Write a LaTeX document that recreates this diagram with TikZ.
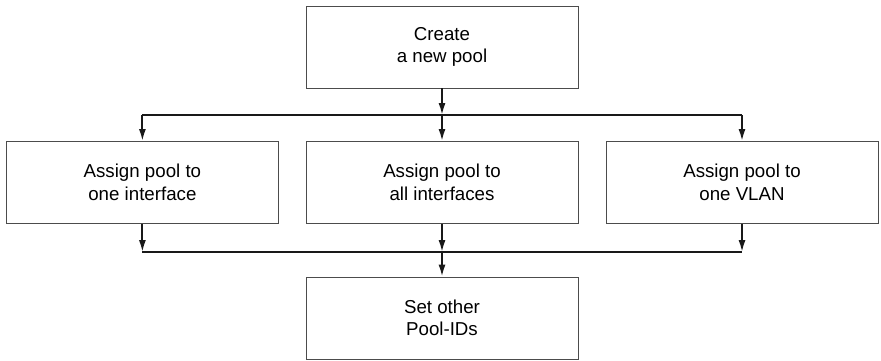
\documentclass[tikz,border=0pt]{standalone}
\usepackage{fontspec}
\setmainfont{Liberation Sans}
\usetikzlibrary{arrows.meta}

\begin{document}
\begin{tikzpicture}[
    box/.style={draw=black!70, line width=0.6pt, minimum width=6.8cm, minimum height=2.05cm,
        inner sep=0pt, align=center, font=\fontsize{13.3}{16}\selectfont},
    link/.style={line width=1.3pt, black!90},
    arr/.style={link, -{Latex[length=8.5pt,width=5pt]}}
  ]
            \useasboundingbox (0,0) rectangle (22.025,-9);

            \node [box] (create) at (11.05,-1.175) {Create\\a new pool};
            \node [box] (onei) at (3.56,-4.56) {Assign pool to\\one interface};
            \node [box] (alli) at (11.05,-4.56) {Assign pool to\\all interfaces};
            \node [box] (vlan) at (18.55,-4.56) {Assign pool to\\one VLAN};
            \node [box] (other) at (11.05,-7.95) {Set other\\Pool-IDs};

            \coordinate (split) at (11.05,-2.875);
            \coordinate (join) at (11.05,-6.3);

            % fan out
            \draw [arr] (create.south) -- (split);
            \draw [link] (onei.north |- split) -- (vlan.north |- split);
            \draw [arr] (split) -- (alli.north);
            \draw [arr] (onei.north |- split) -- (onei.north);
            \draw [arr] (vlan.north |- split) -- (vlan.north);

            % gather
            \draw [arr] (onei.south) -- (onei.south |- join);
            \draw [arr] (alli.south) -- (join);
            \draw [arr] (vlan.south) -- (vlan.south |- join);
            \draw [link] (onei.south |- join) -- (vlan.south |- join);
            \draw [arr] (join) -- (other.north);
\end{tikzpicture}
\end{document}
